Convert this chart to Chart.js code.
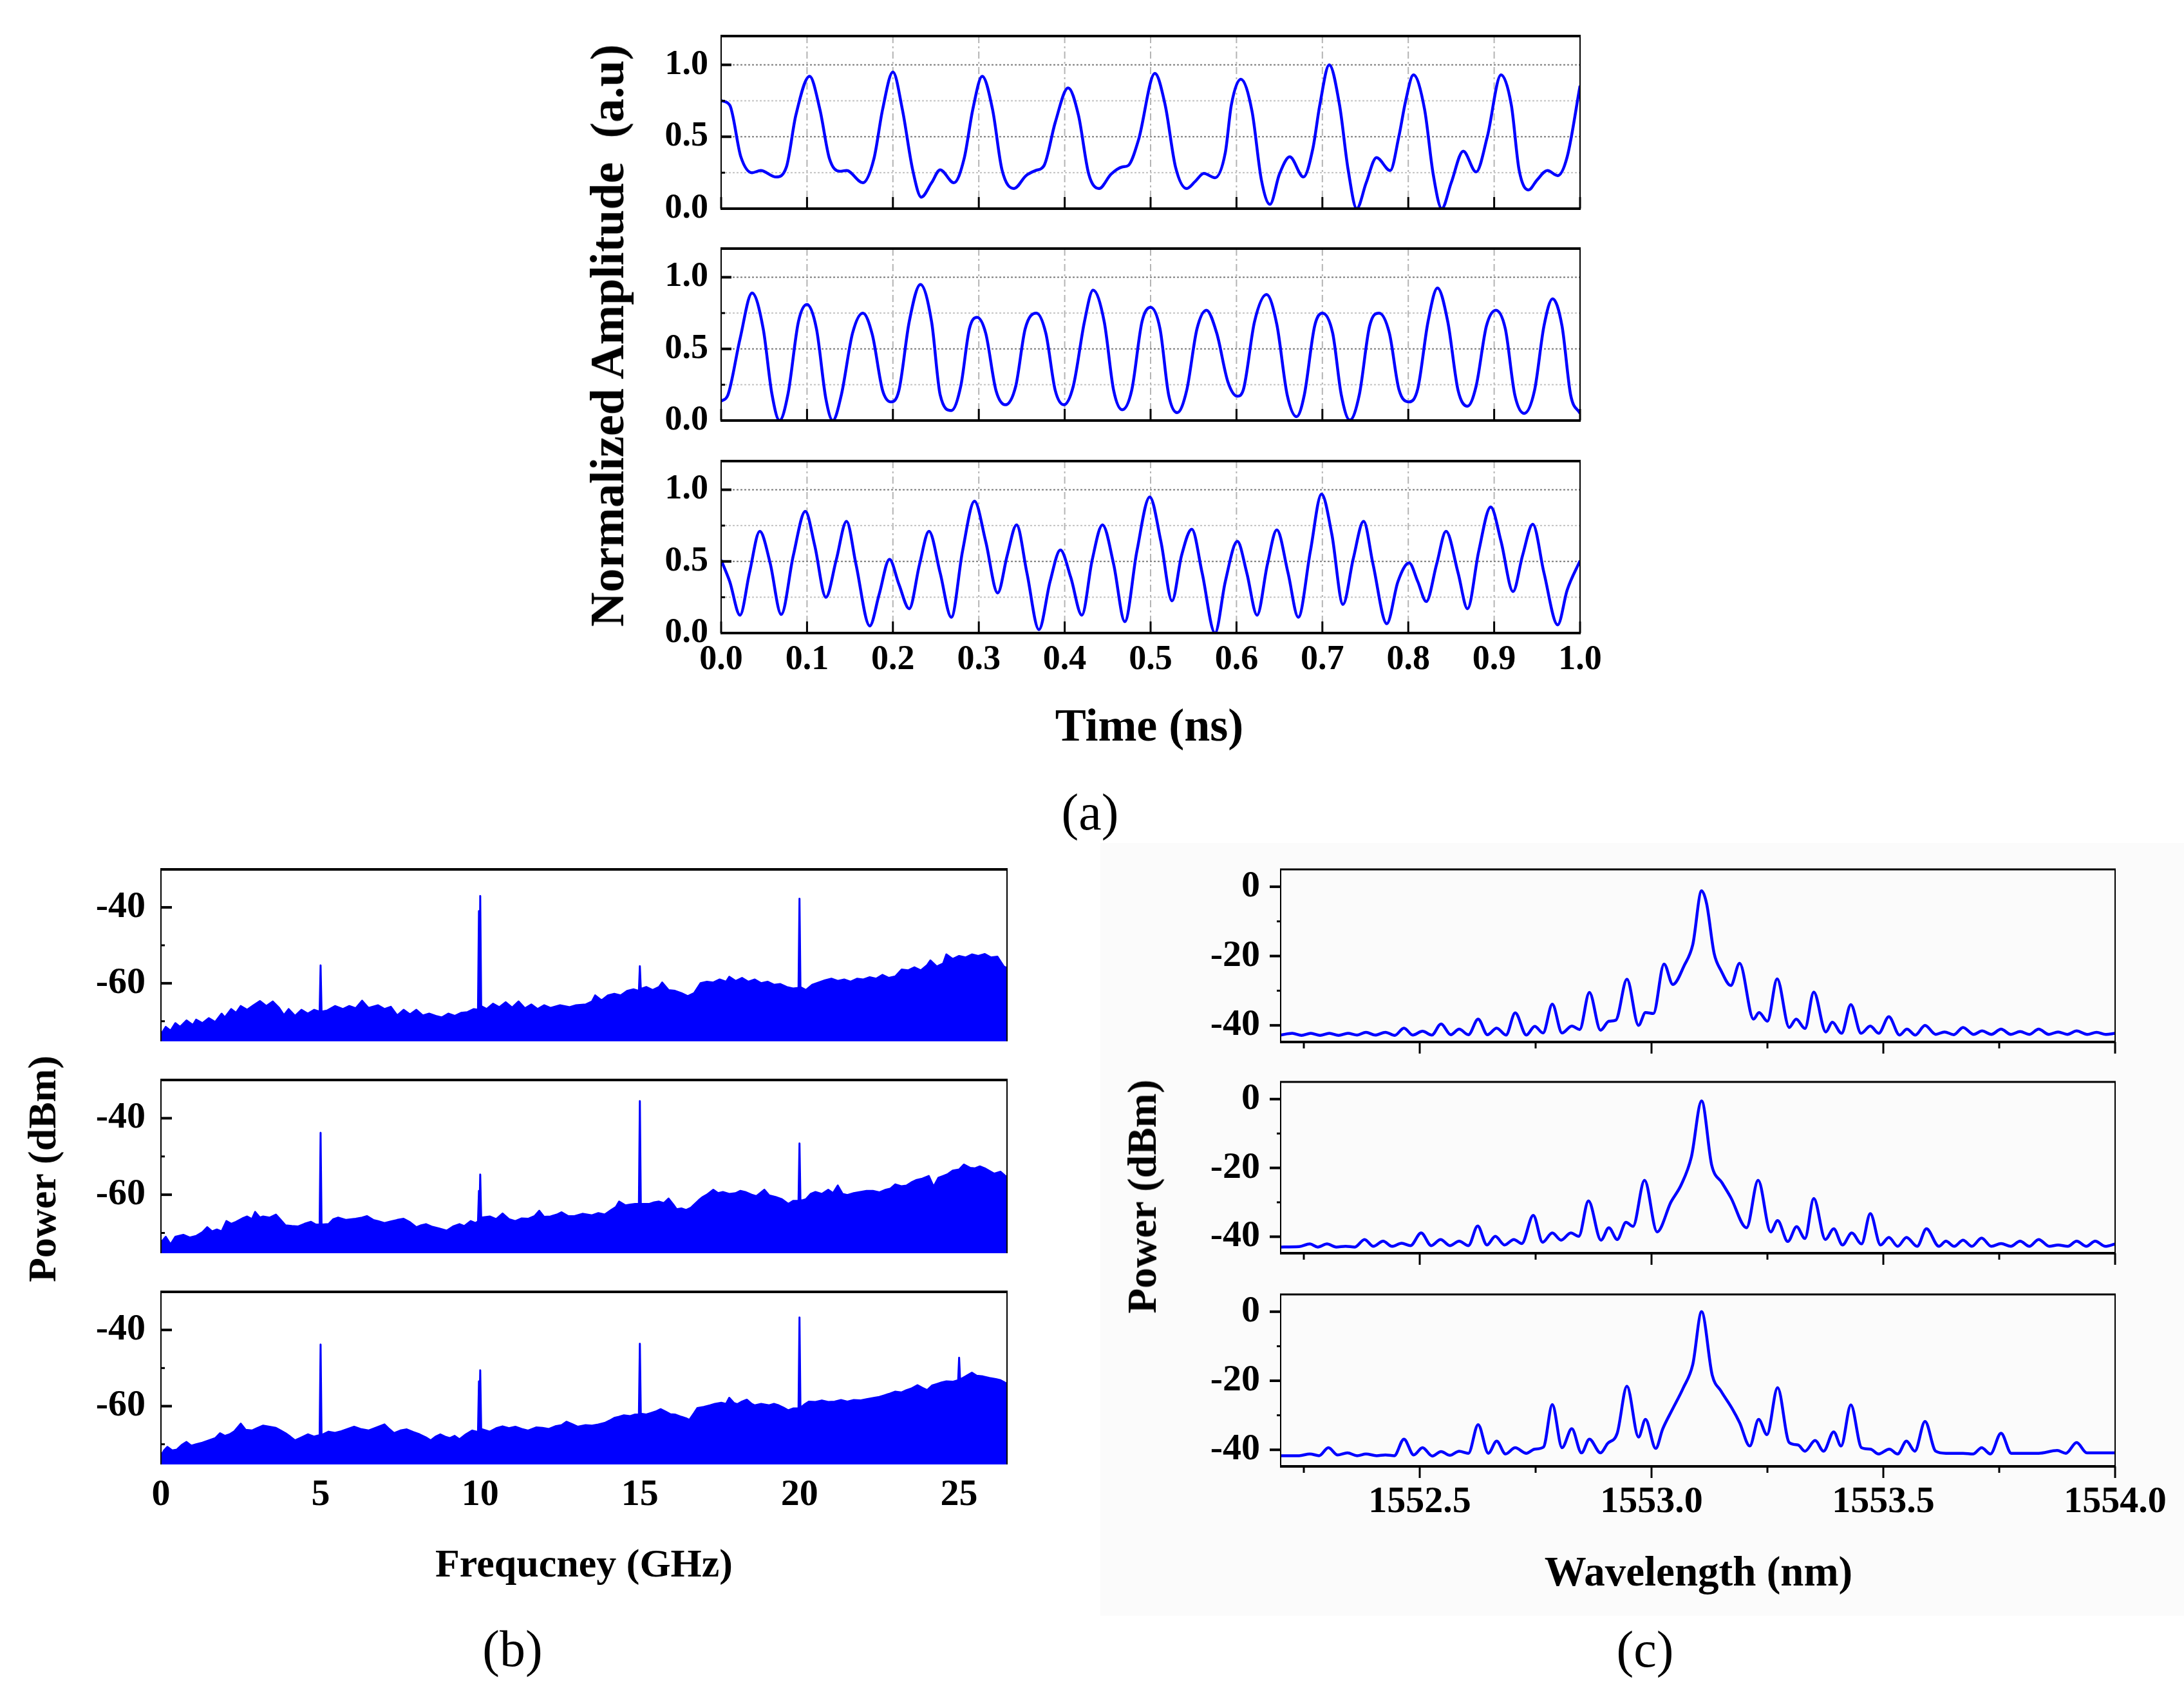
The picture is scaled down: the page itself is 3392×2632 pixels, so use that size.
<!DOCTYPE html>
<html>
<head>
<meta charset="utf-8">
<script src="https://cdn.jsdelivr.net/npm/chart.js"></script>
<style>
  body { margin: 0; width: 3392px; height: 2632px; background: #fff; position: relative; overflow: hidden;
         font-family: "Liberation Serif", "Times New Roman", serif; }
  canvas { position: absolute; }
  .txt { position: absolute; white-space: pre; transform: translate(-50%, -50%); font-weight: bold; color: #000; line-height: 1; }
  .rot { transform: translate(-50%, -50%) rotate(-90deg); }
  .plain { font-weight: normal; }
  #texture { position: absolute; left: 1709px; top: 1309px; width: 1683px; height: 1200px; background: #fbfbfb; }
</style>
</head>
<body>
<div id="texture"></div>
<script>
// ---- (a) time traces ----
const a1T = [0,0.01,0.023,0.036,0.046,0.064,0.076,0.087,0.103,0.115,
  0.126,0.138,0.146,0.165,0.178,0.188,0.2,0.211,0.223,0.233,
  0.245,0.255,0.271,0.283,0.293,0.304,0.316,0.327,0.341,0.355,
  0.366,0.376,0.389,0.404,0.416,0.428,0.44,0.454,0.467,0.474,
  0.486,0.505,0.517,0.529,0.542,0.552,0.562,0.575,0.587,0.594,
  0.605,0.618,0.629,0.639,0.65,0.662,0.678,0.689,0.697,0.708,
  0.72,0.73,0.74,0.751,0.763,0.779,0.789,0.797,0.806,0.819,
  0.829,0.839,0.85,0.864,0.879,0.892,0.908,0.92,0.929,0.94,
  0.95,0.962,0.974,0.985,1.0];
const a1V = [0.75,0.72,0.36,0.25,0.265,0.22,0.29,0.65,0.92,0.69,
  0.35,0.26,0.265,0.18,0.35,0.69,0.95,0.69,0.27,0.08,
  0.18,0.27,0.18,0.35,0.69,0.92,0.69,0.27,0.14,0.23,
  0.265,0.3,0.6,0.84,0.65,0.24,0.14,0.24,0.29,0.3,
  0.48,0.94,0.72,0.29,0.14,0.19,0.245,0.215,0.39,0.72,
  0.9,0.68,0.2,0.03,0.24,0.36,0.22,0.42,0.72,1.0,
  0.72,0.27,0.0,0.18,0.355,0.265,0.5,0.75,0.93,0.69,
  0.24,0.0,0.18,0.4,0.255,0.5,0.93,0.72,0.27,0.13,
  0.2,0.265,0.23,0.36,0.855];

const a2T = [0,0.008,0.022,0.036,0.049,0.059,0.068,0.078,0.09,0.1,
  0.111,0.122,0.13,0.14,0.153,0.165,0.176,0.188,0.198,0.207,
  0.219,0.232,0.245,0.255,0.268,0.279,0.289,0.298,0.308,0.32,
  0.331,0.343,0.354,0.367,0.378,0.389,0.399,0.41,0.423,0.433,
  0.446,0.457,0.467,0.478,0.49,0.5,0.511,0.521,0.531,0.542,
  0.554,0.565,0.577,0.59,0.601,0.608,0.621,0.635,0.647,0.659,
  0.67,0.679,0.691,0.7,0.712,0.722,0.732,0.743,0.755,0.766,
  0.778,0.789,0.801,0.811,0.823,0.834,0.846,0.858,0.869,0.879,
  0.891,0.902,0.913,0.924,0.935,0.947,0.958,0.968,0.979,0.989,
  1.0];
const a2V = [0.135,0.18,0.57,0.89,0.64,0.19,0.0,0.19,0.69,0.81,
  0.64,0.15,0.0,0.18,0.61,0.75,0.6,0.21,0.13,0.21,
  0.69,0.95,0.69,0.18,0.07,0.24,0.64,0.72,0.61,0.21,
  0.11,0.24,0.64,0.75,0.61,0.21,0.11,0.24,0.69,0.91,
  0.69,0.21,0.075,0.21,0.69,0.79,0.64,0.18,0.055,0.21,
  0.64,0.77,0.61,0.27,0.17,0.215,0.69,0.88,0.67,0.18,
  0.027,0.18,0.66,0.75,0.61,0.18,0.003,0.18,0.66,0.75,
  0.61,0.22,0.13,0.22,0.69,0.925,0.69,0.21,0.1,0.24,
  0.66,0.77,0.64,0.18,0.05,0.21,0.66,0.85,0.66,0.18,
  0.05];

const a3T = [0,0.01,0.022,0.033,0.045,0.057,0.07,0.084,0.098,0.109,
  0.122,0.134,0.146,0.157,0.173,0.184,0.196,0.207,0.219,0.231,
  0.242,0.255,0.268,0.281,0.295,0.308,0.322,0.333,0.344,0.356,
  0.37,0.383,0.395,0.407,0.42,0.432,0.444,0.457,0.47,0.484,
  0.499,0.512,0.525,0.536,0.548,0.56,0.575,0.587,0.601,0.612,
  0.624,0.636,0.647,0.66,0.672,0.686,0.699,0.711,0.724,0.736,
  0.748,0.759,0.775,0.788,0.801,0.811,0.821,0.833,0.844,0.858,
  0.869,0.882,0.896,0.908,0.922,0.933,0.945,0.958,0.974,0.985,
  1.0];
const a3V = [0.51,0.36,0.125,0.42,0.71,0.49,0.13,0.54,0.85,0.61,
  0.25,0.51,0.78,0.48,0.05,0.27,0.515,0.34,0.17,0.48,
  0.71,0.42,0.11,0.57,0.92,0.64,0.28,0.54,0.755,0.42,
  0.024,0.36,0.58,0.39,0.125,0.51,0.755,0.48,0.08,0.57,
  0.95,0.64,0.225,0.54,0.725,0.42,0.0,0.36,0.64,0.42,
  0.125,0.48,0.72,0.42,0.11,0.57,0.97,0.69,0.2,0.52,
  0.78,0.48,0.065,0.36,0.49,0.36,0.22,0.48,0.71,0.42,
  0.17,0.57,0.88,0.64,0.29,0.54,0.76,0.42,0.057,0.3,
  0.505];

// ---- (b) RF spectra ----
const b1F = [0,0.15,0.3,0.45,0.6,0.8,1.0,1.1,1.3,1.5,
  1.7,1.9,2.0,2.2,2.35,2.5,2.7,2.9,3.1,3.3,
  3.5,3.7,3.85,4.0,4.2,4.4,4.6,4.8,4.97,5.0,
  5.03,5.2,5.45,5.7,5.9,6.1,6.3,6.5,6.8,7.0,
  7.2,7.4,7.6,7.8,8.0,8.2,8.4,8.6,8.8,9.0,
  9.2,9.4,9.6,9.8,9.93,9.96,9.98,10.0,10.03,10.2,
  10.4,10.6,10.8,11.0,11.2,11.4,11.6,11.8,12.0,12.2,
  12.5,12.8,13.0,13.3,13.5,13.6,13.8,14.0,14.2,14.4,
  14.6,14.8,14.97,15.0,15.03,15.2,15.4,15.6,15.7,15.9,
  16.1,16.3,16.5,16.7,16.9,17.1,17.3,17.5,17.7,17.8,
  18.0,18.2,18.4,18.6,18.8,19.0,19.2,19.4,19.6,19.8,
  19.97,20.0,20.03,20.2,20.4,20.6,20.8,21.0,21.2,21.4,
  21.6,21.8,22.0,22.2,22.4,22.6,22.8,23.0,23.2,23.4,
  23.6,23.8,24.0,24.1,24.3,24.5,24.6,24.8,25.0,25.2,
  25.4,25.6,25.8,26.0,26.2,26.4,26.5];
const b1P = [-73.5,-71.5,-72.5,-70.5,-71.5,-69.8,-71.0,-69.6,-70.5,-69.2,
  -70.2,-68.0,-69.0,-66.8,-67.8,-66.0,-67.0,-65.8,-64.7,-66.0,
  -64.8,-66.5,-68.4,-66.8,-68.6,-67.0,-68.0,-67.0,-67.5,-55.3,
  -67.5,-67.2,-66.0,-66.8,-66.0,-66.6,-64.6,-66.5,-65.8,-66.8,
  -66.2,-68.5,-67.0,-68.2,-67.0,-68.5,-68.0,-68.6,-69.0,-68.0,
  -68.6,-67.8,-67.6,-66.8,-67.0,-41.0,-63.0,-37.0,-66.0,-66.8,
  -65.4,-66.3,-65.0,-66.4,-64.8,-66.6,-65.6,-66.8,-65.8,-66.5,
  -65.8,-66.3,-65.8,-65.6,-64.8,-63.2,-64.5,-63.2,-62.8,-63.2,
  -62.0,-61.6,-62.0,-55.5,-61.5,-61.0,-61.8,-61.0,-59.8,-61.8,
  -62.0,-62.6,-63.4,-62.6,-60.0,-59.6,-59.8,-59.0,-59.6,-58.3,
  -59.4,-58.6,-59.6,-59.0,-60.0,-59.6,-60.4,-60.2,-61.0,-61.4,
  -61.2,-37.7,-61.0,-61.8,-60.4,-59.8,-59.2,-58.8,-59.4,-59.0,
  -59.6,-58.8,-59.0,-58.4,-58.8,-57.8,-58.6,-58.2,-56.4,-56.6,
  -55.8,-56.6,-55.2,-54.0,-55.6,-54.8,-52.4,-53.6,-52.8,-53.2,
  -52.4,-52.8,-52.3,-53.2,-53.0,-55.6,-56.0];

const b2F = [0,0.15,0.3,0.45,0.7,0.9,1.1,1.3,1.45,1.6,
  1.75,1.9,2.05,2.2,2.35,2.55,2.7,2.85,2.95,3.1,
  3.2,3.4,3.6,3.75,3.9,4.1,4.3,4.5,4.7,4.85,
  4.97,5.0,5.03,5.25,5.4,5.55,5.8,6.1,6.3,6.45,
  6.65,6.8,7.0,7.2,7.4,7.6,7.8,8.0,8.15,8.3,
  8.5,8.7,8.95,9.15,9.35,9.5,9.7,9.85,9.93,9.96,
  9.98,10.0,10.03,10.3,10.5,10.7,10.9,11.1,11.3,11.5,
  11.7,11.85,12.0,12.2,12.4,12.55,12.75,12.95,13.2,13.5,
  13.7,13.9,14.1,14.25,14.35,14.55,14.7,14.85,14.97,15.0,
  15.03,15.3,15.45,15.6,15.75,15.9,16.05,16.15,16.3,16.45,
  16.6,16.7,16.85,16.95,17.1,17.3,17.45,17.6,17.8,18.0,
  18.15,18.3,18.5,18.65,18.9,19.05,19.25,19.45,19.65,19.8,
  19.97,20.0,20.03,20.2,20.35,20.5,20.7,20.9,21.05,21.2,
  21.35,21.5,21.7,21.9,22.1,22.3,22.5,22.7,22.85,23.0,
  23.2,23.35,23.5,23.65,23.85,24.05,24.2,24.35,24.5,24.65,
  24.8,25.0,25.15,25.35,25.5,25.65,25.8,25.95,26.1,26.3,
  26.45,26.5];
const b2P = [-72.5,-71.0,-73.0,-71.0,-70.5,-71.2,-70.8,-69.8,-68.5,-69.6,
  -69.1,-69.6,-66.9,-67.6,-67.1,-66.2,-65.7,-66.4,-64.5,-66.0,
  -65.7,-66.0,-65.2,-66.6,-68.0,-68.2,-68.3,-67.6,-67.1,-67.8,
  -67.8,-43.8,-67.8,-67.7,-66.4,-66.0,-66.6,-66.3,-66.0,-65.6,
  -66.6,-66.9,-67.4,-67.0,-66.6,-66.3,-67.2,-68.5,-68.0,-67.7,
  -68.4,-68.8,-69.4,-68.3,-67.7,-68.2,-66.9,-67.4,-67.0,-59.0,
  -63.0,-54.7,-66.0,-65.7,-66.4,-64.9,-66.4,-66.9,-66.2,-66.3,
  -65.6,-64.2,-65.8,-65.7,-65.2,-64.6,-65.6,-65.6,-65.0,-65.4,
  -64.8,-65.2,-64.0,-63.2,-61.8,-62.8,-62.6,-62.4,-62.4,-35.5,
  -62.4,-62.4,-62.0,-61.8,-62.2,-61.0,-62.6,-63.8,-63.6,-64.0,
  -63.4,-62.6,-61.4,-60.7,-60.0,-58.7,-59.6,-59.3,-59.8,-59.6,
  -59.0,-59.3,-60.0,-60.4,-58.7,-60.2,-60.6,-61.2,-62.4,-61.6,
  -61.6,-46.6,-61.6,-61.2,-59.8,-59.3,-59.8,-58.7,-59.6,-57.6,
  -59.8,-60.1,-59.6,-59.3,-59.0,-59.0,-59.4,-58.7,-58.4,-57.3,
  -57.8,-57.6,-56.8,-56.2,-55.8,-55.1,-57.9,-55.6,-55.1,-54.6,
  -53.7,-53.4,-52.1,-53.0,-53.1,-52.6,-53.1,-53.8,-54.5,-54.0,
  -55.1,-55.5];

const b3F = [0,0.1,0.2,0.35,0.5,0.65,0.8,0.95,1.1,1.3,
  1.5,1.7,1.85,2.0,2.15,2.3,2.5,2.65,2.85,3.0,
  3.2,3.4,3.6,3.75,3.9,4.05,4.2,4.4,4.6,4.8,
  4.97,5.0,5.03,5.25,5.45,5.65,5.85,6.05,6.25,6.5,
  6.75,7.0,7.15,7.3,7.5,7.7,7.9,8.1,8.3,8.45,
  8.6,8.75,8.9,9.05,9.2,9.35,9.55,9.75,9.93,9.96,
  9.98,10.0,10.03,10.3,10.5,10.7,10.9,11.1,11.3,11.5,
  11.75,11.95,12.15,12.35,12.55,12.7,12.9,13.05,13.3,13.5,
  13.7,13.9,14.05,14.2,14.35,14.5,14.7,14.85,14.97,15.0,
  15.03,15.2,15.35,15.5,15.65,15.8,15.95,16.1,16.3,16.45,
  16.55,16.7,16.8,17.0,17.2,17.35,17.55,17.7,17.8,17.95,
  18.05,18.2,18.35,18.5,18.6,18.8,19.05,19.2,19.35,19.5,
  19.65,19.8,19.97,20.0,20.03,20.15,20.3,20.5,20.7,20.9,
  21.1,21.3,21.5,21.7,21.9,22.1,22.35,22.5,22.65,22.8,
  23.0,23.2,23.35,23.5,23.7,23.85,24.0,24.15,24.3,24.45,
  24.6,24.8,24.97,25.0,25.03,25.2,25.4,25.55,25.75,25.95,
  26.15,26.3,26.45,26.5];
const b3P = [-73.0,-71.6,-70.7,-71.6,-71.4,-70.2,-69.4,-70.4,-70.0,-69.6,
  -69.0,-68.4,-67.1,-67.8,-67.4,-66.6,-64.6,-66.2,-66.4,-65.8,
  -65.1,-65.4,-65.7,-66.4,-67.1,-68.0,-69.0,-68.2,-67.4,-68.0,
  -67.6,-43.8,-67.6,-66.7,-67.0,-66.6,-66.0,-65.4,-66.0,-66.4,
  -65.6,-64.8,-66.0,-67.1,-66.4,-66.1,-66.8,-67.4,-68.2,-69.0,
  -68.0,-67.4,-68.0,-68.4,-67.8,-68.7,-67.4,-66.4,-66.8,-53.5,
  -60.0,-50.6,-66.0,-66.7,-65.8,-65.3,-65.8,-65.4,-66.0,-66.4,
  -65.6,-65.7,-66.0,-65.3,-65.0,-64.1,-64.8,-65.4,-65.0,-65.1,
  -64.8,-64.4,-63.8,-63.1,-62.8,-62.4,-62.6,-62.2,-62.2,-43.6,
  -62.0,-62.2,-61.8,-61.4,-60.8,-61.4,-62.1,-62.2,-62.8,-63.2,
  -63.6,-61.8,-60.5,-60.2,-59.8,-59.4,-59.1,-59.4,-57.8,-59.2,
  -59.5,-58.8,-58.3,-59.4,-59.8,-59.4,-59.8,-59.4,-59.8,-60.4,
  -61.1,-60.6,-60.6,-36.7,-60.4,-59.6,-58.8,-58.9,-58.5,-58.9,
  -58.8,-58.4,-58.8,-58.4,-58.5,-58.2,-57.8,-57.6,-57.2,-56.8,
  -56.2,-56.4,-55.8,-55.4,-54.5,-55.2,-55.8,-54.6,-54.2,-53.8,
  -53.5,-53.6,-53.2,-47.3,-53.0,-52.2,-51.2,-52.0,-52.2,-52.6,
  -52.9,-53.2,-53.9,-54.5];

// ---- (c) optical spectra ----
const c1L = [1552.2,1552.225,1552.245,1552.265,1552.285,1552.305,1552.325,1552.345,1552.365,1552.384,
  1552.404,1552.426,1552.446,1552.466,1552.485,1552.506,1552.526,1552.546,1552.567,1552.585,
  1552.605,1552.626,1552.646,1552.666,1552.686,1552.706,1552.73,1552.748,1552.766,1552.786,
  1552.807,1552.828,1552.845,1552.866,1552.89,1552.908,1552.923,1552.947,1552.972,1552.987,
  1553.004,1553.027,1553.046,1553.071,1553.089,1553.108,1553.119,1553.135,1553.15,1553.171,
  1553.19,1553.22,1553.232,1553.25,1553.271,1553.297,1553.312,1553.331,1553.35,1553.376,
  1553.39,1553.41,1553.43,1553.452,1553.472,1553.49,1553.512,1553.535,1553.551,1553.569,
  1553.59,1553.613,1553.632,1553.652,1553.672,1553.695,1553.713,1553.733,1553.754,1553.775,
  1553.795,1553.815,1553.835,1553.857,1553.877,1553.897,1553.917,1553.94,1553.96,1553.98,
  1554.0];
const c1P = [-42.8,-42.3,-42.9,-42.3,-42.9,-42.3,-42.9,-42.3,-42.8,-42.0,
  -42.8,-42.0,-42.9,-40.8,-42.8,-41.7,-42.8,-39.6,-42.7,-41.1,
  -42.7,-38.2,-42.7,-40.8,-42.8,-36.4,-42.8,-40.3,-42.2,-33.9,
  -42.2,-40.2,-41.2,-30.5,-41.4,-38.8,-38.5,-26.7,-40.0,-36.3,
  -36.6,-22.3,-28.2,-22.6,-16.7,-1.2,-5.0,-19.2,-24.2,-28.5,
  -22.1,-38.2,-36.3,-38.8,-26.6,-40.6,-38.2,-40.9,-30.4,-41.9,
  -39.1,-42.3,-34.0,-42.3,-40.2,-42.3,-37.5,-42.8,-41.1,-42.8,
  -40.0,-42.6,-41.9,-42.7,-40.6,-42.6,-41.6,-42.6,-41.1,-42.6,
  -41.8,-42.6,-41.1,-42.6,-41.9,-42.6,-41.6,-42.6,-42.0,-42.6,
  -42.3];

const c2L = [1552.2,1552.24,1552.263,1552.28,1552.3,1552.32,1552.34,1552.36,1552.381,1552.4,
  1552.421,1552.44,1552.461,1552.48,1552.503,1552.525,1552.545,1552.565,1552.585,1552.605,
  1552.625,1552.645,1552.663,1552.683,1552.703,1552.72,1552.745,1552.765,1552.786,1552.805,
  1552.826,1552.843,1552.864,1552.891,1552.908,1552.926,1552.945,1552.96,1552.985,1553.012,
  1553.042,1553.064,1553.086,1553.108,1553.13,1553.152,1553.171,1553.205,1553.23,1553.257,
  1553.272,1553.294,1553.313,1553.331,1553.35,1553.375,1553.393,1553.412,1553.432,1553.453,
  1553.472,1553.494,1553.512,1553.531,1553.55,1553.573,1553.593,1553.62,1553.635,1553.653,
  1553.672,1553.691,1553.712,1553.733,1553.754,1553.775,1553.795,1553.815,1553.835,1553.858,
  1553.877,1553.898,1553.917,1553.938,1553.957,1553.979,1554.0];
const c2P = [-43.0,-42.9,-42.1,-43.0,-42.1,-43.0,-42.8,-43.0,-40.8,-42.8,
  -41.3,-42.8,-41.9,-42.6,-38.9,-42.6,-40.8,-42.6,-41.3,-42.6,
  -36.9,-42.4,-39.9,-42.4,-40.8,-42.0,-33.8,-41.6,-38.9,-41.0,
  -38.9,-39.9,-29.6,-41.0,-37.4,-40.8,-35.8,-37.0,-23.6,-38.6,
  -29.9,-24.9,-16.8,-0.5,-19.3,-24.3,-28.6,-37.4,-23.6,-38.6,
  -35.3,-41.4,-37.1,-40.5,-28.9,-40.8,-37.7,-42.4,-38.9,-42.1,
  -33.3,-42.4,-40.2,-42.8,-40.2,-42.8,-37.7,-42.8,-41.3,-42.8,
  -41.0,-42.8,-40.4,-42.8,-42.0,-42.8,-41.3,-42.8,-40.8,-42.8,
  -42.4,-42.8,-41.3,-42.8,-41.3,-42.8,-42.1];

const c3L = [1552.2,1552.24,1552.263,1552.283,1552.303,1552.323,1552.344,1552.365,1552.384,1552.407,
  1552.426,1552.445,1552.466,1552.487,1552.506,1552.527,1552.546,1552.565,1552.585,1552.605,
  1552.626,1552.648,1552.666,1552.685,1552.706,1552.73,1552.748,1552.767,1552.786,1552.807,
  1552.828,1552.849,1552.866,1552.89,1552.905,1552.926,1552.947,1552.972,1552.987,1553.009,
  1553.024,1553.045,1553.068,1553.089,1553.108,1553.131,1553.15,1553.175,1553.19,1553.212,
  1553.231,1553.249,1553.272,1553.297,1553.316,1553.331,1553.353,1553.371,1553.393,1553.409,
  1553.43,1553.453,1553.472,1553.49,1553.513,1553.531,1553.55,1553.568,1553.59,1553.613,
  1553.635,1553.672,1553.694,1553.712,1553.731,1553.754,1553.776,1553.813,1553.835,1553.875,
  1553.894,1553.917,1553.939,1553.969,1554.0];
const c3P = [-41.7,-41.7,-41.2,-41.7,-39.4,-41.5,-40.9,-41.7,-41.2,-41.7,
  -41.5,-41.7,-36.9,-41.5,-39.4,-41.8,-40.5,-41.6,-40.4,-41.0,
  -32.7,-41.0,-37.5,-41.2,-39.4,-41.0,-39.8,-39.2,-26.9,-39.4,
  -33.9,-40.9,-36.9,-40.9,-38.2,-35.2,-21.6,-36.3,-31.2,-39.6,
  -34.0,-28.3,-22.2,-15.3,0.0,-18.4,-23.0,-28.3,-32.1,-38.9,
  -31.2,-35.6,-22.0,-37.9,-38.6,-40.4,-37.3,-40.4,-34.8,-38.9,
  -27.0,-39.4,-39.8,-41.2,-39.8,-41.2,-37.5,-40.4,-31.8,-40.4,
  -41.0,-41.0,-41.2,-39.4,-41.2,-35.2,-41.0,-41.0,-41.0,-40.2,
  -41.0,-37.9,-40.9,-40.9,-40.9];

// tick labels
const aXTicks = [0,0.1,0.2,0.3,0.4,0.5,0.6,0.7,0.8,0.9,1.0];
const aYTicks = [0,0.5,1.0];
const aYMinor = [0.25,0.75];
const bXTicks = [0,5,10,15,20,25];
const bYTicks = [-60,-40];
const bYMinor = [-70,-50];
const cXTicks = [1552.5,1553.0,1553.5,1554.0];
const cXMinor = [1552.25,1552.75,1553.25,1553.75];
const cYTicks = [-40,-20,0];
const cYMinor = [-30,-10];

Chart.defaults.font.family = '"Liberation Serif", "Times New Roman", serif';
Chart.defaults.color = '#000';
const BLUE = '#0000ff';
// generous top padding so the scale's label padding never pushes the plot area down
const PAD = { L: 220, T: 90, R: 110, B: 90 };

function frameFor(f) {
  return {
    id: 'frame',
    beforeDatasetsDraw(chart) {
      const { ctx, chartArea: a, scales: { x, y } } = chart;
      ctx.save();
      ctx.lineWidth = 2;
      (f.vGrid || []).forEach(v => {
        const px = x.getPixelForValue(v);
        ctx.strokeStyle = '#b4b4b4';
        ctx.setLineDash([11, 5, 3, 5]);
        ctx.beginPath(); ctx.moveTo(px, a.top); ctx.lineTo(px, a.bottom); ctx.stroke();
      });
      (f.hGrid || []).forEach(g => {
        const py = y.getPixelForValue(g[0]);
        ctx.strokeStyle = g[1];
        ctx.setLineDash([3, 3]);
        ctx.beginPath(); ctx.moveTo(a.left, py); ctx.lineTo(a.right, py); ctx.stroke();
      });
      ctx.restore();
    },
    afterDatasetsDraw(chart) {
      const { ctx, chartArea: a, scales: { x, y } } = chart;
      ctx.save();
      ctx.strokeStyle = '#000';
      ctx.setLineDash([]);
      const seg = (x1, y1, x2, y2, w) => {
        if (!w) return;
        ctx.lineWidth = w;
        ctx.beginPath(); ctx.moveTo(x1, y1); ctx.lineTo(x2, y2); ctx.stroke();
      };
      const b = f.border;
      seg(a.left - 1, a.top, a.right + 1, a.top, b.top);
      seg(a.left - 1, a.bottom, a.right + 1, a.bottom, b.bottom);
      seg(a.left, a.top, a.left, a.bottom, b.left);
      seg(a.right, a.top, a.right, a.bottom, b.right);
      if (f.xt) {
        const t = f.xt;
        t.major.forEach(v => { const p = x.getPixelForValue(v); seg(p, a.bottom, p, a.bottom - t.dir * t.len[0], 3); });
        t.minor.forEach(v => { const p = x.getPixelForValue(v); seg(p, a.bottom, p, a.bottom - t.dir * t.len[1], 3); });
      }
      if (f.yt) {
        const t = f.yt;
        t.major.forEach(v => { const p = y.getPixelForValue(v); seg(a.left, p, a.left + t.dir * t.len[0], p, 4); });
        t.minor.forEach(v => { const p = y.getPixelForValue(v); seg(a.left, p, a.left + t.dir * t.len[1], p, 3); });
      }
      ctx.restore();
    }
  };
}

const kindA = {
  xMin: 0, xMax: 1, yMin: 0, yMax: 1.2, xTicks: aXTicks, yTicks: aYTicks,
  fmtX: v => v.toFixed(1), fmtY: v => v.toFixed(1), font: 54, xPad: 10, yPad: 20,
  lw: 4.5, smooth: true, fill: false,
  frame: {
    vGrid: aXTicks.slice(1, -1),
    hGrid: [[0.25, '#c4c4c4'], [0.5, '#7a7a7a'], [0.75, '#c4c4c4'], [1.0, '#7a7a7a']],
    xt: { major: aXTicks, minor: [], len: [18, 0], dir: 1 },
    yt: { major: aYTicks, minor: aYMinor, len: [16, 6], dir: 1 },
    border: { top: 4, bottom: 4, left: 2, right: 2 }
  }
};
const kindB = {
  xMin: 0, xMax: 26.5, yMin: -75.3, yMax: -30, xTicks: bXTicks, yTicks: bYTicks,
  fmtX: v => String(v), fmtY: v => String(v), font: 58, xPad: 13, yPad: 24,
  lw: 3, smooth: false, fill: true,
  frame: {
    yt: { major: bYTicks, minor: bYMinor, len: [17, 6], dir: 1 },
    border: { top: 4, bottom: 0, left: 2, right: 2 }
  }
};
const kindC = {
  xMin: 1552.2, xMax: 1554.0, yMin: -44.8, yMax: 5, xTicks: cXTicks, yTicks: cYTicks,
  fmtX: v => v.toFixed(1), fmtY: v => String(v), font: 58, xPad: 21, yPad: 32,
  lw: 4.5, smooth: true, fill: false,
  frame: {
    xt: { major: cXTicks, minor: cXMinor, len: [18, 10], dir: -1 },
    yt: { major: cYTicks, minor: cYMinor, len: [17, 6], dir: -1 },
    border: { top: 3, bottom: 4, left: 2, right: 2 }
  }
};

function makePanel(box, xs, ys, k, showX) {
  const c = document.createElement('canvas');
  c.width = box.w + PAD.L + PAD.R;
  c.height = box.h + PAD.T + PAD.B;
  c.style.left = (box.x - PAD.L) + 'px';
  c.style.top = (box.y - PAD.T) + 'px';
  document.body.appendChild(c);
  const n = Math.min(xs.length, ys.length);
  const pts = [];
  for (let i = 0; i < n; i++) pts.push({ x: xs[i], y: ys[i] });
  const font = { size: k.font, weight: 'bold' };
  new Chart(c, {
    type: 'line',
    data: {
      datasets: [{
        data: pts, borderColor: BLUE, backgroundColor: BLUE, borderWidth: k.lw,
        pointRadius: 0, fill: k.fill ? 'start' : false, tension: 0,
        cubicInterpolationMode: k.smooth ? 'monotone' : 'default', borderJoinStyle: 'round'
      }]
    },
    options: {
      responsive: false, animation: false, devicePixelRatio: 1, events: [],
      layout: { padding: { left: 0, top: PAD.T, right: PAD.R, bottom: 0 } },
      plugins: { legend: { display: false }, tooltip: { enabled: false } },
      scales: {
        x: {
          type: 'linear', min: k.xMin, max: k.xMax,
          grid: { display: false, drawTicks: false }, border: { display: false },
          afterBuildTicks: s => { s.ticks = k.xTicks.map(v => ({ value: v })); },
          afterFit: s => { s.height = PAD.B; },
          ticks: { display: showX, padding: k.xPad, font: font, color: '#000', autoSkip: false,
                   maxRotation: 0, minRotation: 0, callback: k.fmtX }
        },
        y: {
          type: 'linear', min: k.yMin, max: k.yMax,
          grid: { display: false, drawTicks: false }, border: { display: false },
          afterBuildTicks: s => { s.ticks = k.yTicks.map(v => ({ value: v })); },
          afterFit: s => { s.width = PAD.L; },
          ticks: { padding: k.yPad, font: font, color: '#000', autoSkip: false, callback: k.fmtY }
        }
      }
    },
    plugins: [frameFor(k.frame)]
  });
}

makePanel({ x: 1120, y: 56, w: 1334, h: 268 }, a1T, a1V, kindA, false);
makePanel({ x: 1120, y: 386, w: 1334, h: 267 }, a2T, a2V, kindA, false);
makePanel({ x: 1120, y: 716, w: 1334, h: 267 }, a3T, a3V, kindA, true);

makePanel({ x: 250, y: 1350, w: 1314, h: 267 }, b1F, b1P, kindB, false);
makePanel({ x: 250, y: 1677, w: 1314, h: 269 }, b2F, b2P, kindB, false);
makePanel({ x: 250, y: 2006, w: 1314, h: 268 }, b3F, b3P, kindB, true);

makePanel({ x: 1989, y: 1350, w: 1296, h: 268 }, c1L, c1P, kindC, false);
makePanel({ x: 1989, y: 1680, w: 1296, h: 266 }, c2L, c2P, kindC, false);
makePanel({ x: 1989, y: 2010, w: 1296, h: 267 }, c3L, c3P, kindC, true);

// axis titles and panel letters
const labels = [
  { t: 'Normalized Amplitude  (a.u)', x: 943, y: 521, s: 74, rot: true },
  { t: 'Time (ns)', x: 1785, y: 1126, s: 72 },
  { t: '(a)', x: 1693, y: 1261, s: 80, plain: true },
  { t: 'Power (dBm)', x: 65, y: 1815, s: 62, rot: true },
  { t: 'Frequcney (GHz)', x: 907, y: 2427, s: 62 },
  { t: '(b)', x: 796, y: 2560, s: 80, plain: true },
  { t: 'Power (dBm)', x: 1774, y: 1858, s: 64, rot: true },
  { t: 'Wavelength (nm)', x: 2638, y: 2440, s: 65 },
  { t: '(c)', x: 2555, y: 2561, s: 80, plain: true }
];
labels.forEach(l => {
  const d = document.createElement('div');
  d.className = 'txt' + (l.rot ? ' rot' : '') + (l.plain ? ' plain' : '');
  d.textContent = l.t;
  d.style.left = l.x + 'px';
  d.style.top = l.y + 'px';
  d.style.fontSize = l.s + 'px';
  document.body.appendChild(d);
});
</script>
</body>
</html>
